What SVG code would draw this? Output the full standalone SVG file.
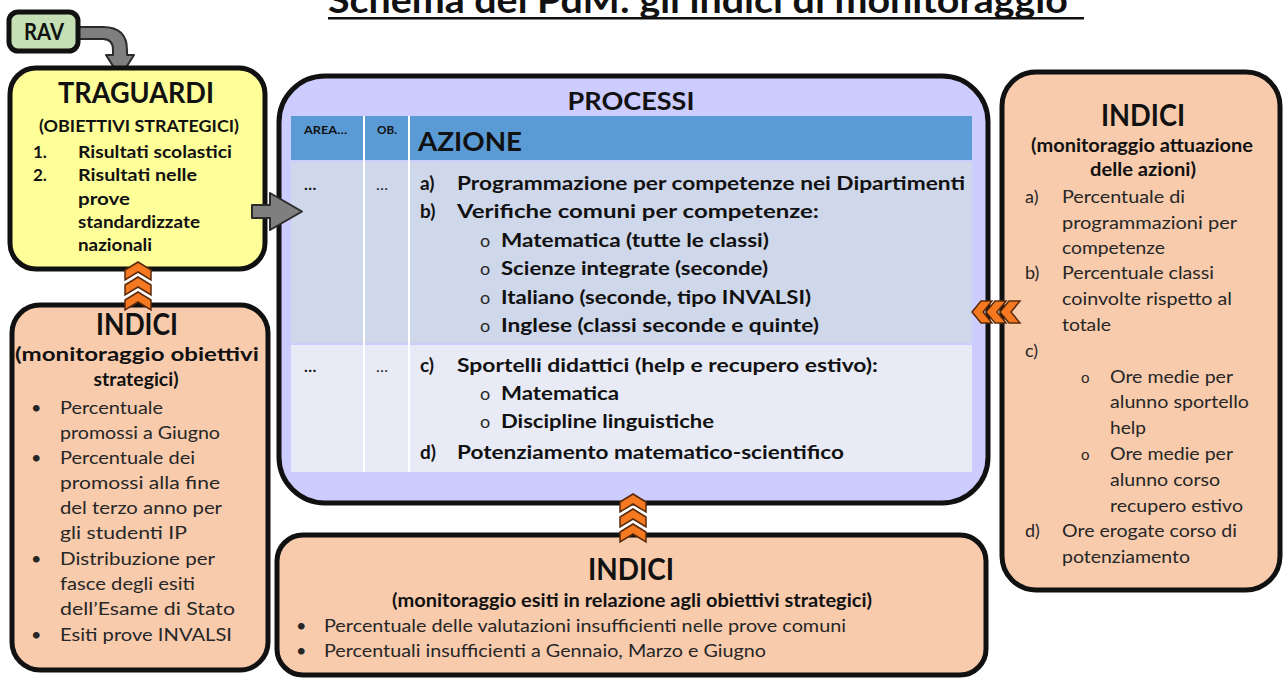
<svg xmlns="http://www.w3.org/2000/svg" width="1285" height="678" viewBox="0 0 1285 678">
<defs>
<style>
.box{stroke:#111;stroke-width:5}
.yel{fill:#ffff99}
.pch{fill:#f8cbad}
.lav{fill:#ccccff}
.grn{fill:#c5e0b4}
text{font-family:Lato,"Liberation Sans",sans-serif;fill:#111}
.b{font-weight:700}
.r{font-weight:400;fill:#262626}
.chev{fill:#f47920;stroke:#5a2a0a;stroke-width:1.5;stroke-linejoin:miter}
.arr{fill:#7f7f7f;stroke:#2b2b2b;stroke-width:2;stroke-linejoin:round}
.wl{stroke:#ffffff;stroke-width:2}
</style>
<polygon id="chevU" class="chev" points="-13,18 -13,8 0,0 13,8 13,18 0,10"/>
<polygon id="chevL" class="chev" points="0,11 9,0 20,0 11,11 20,22 9,22"/>
</defs>
<rect x="0" y="0" width="1285" height="678" fill="#ffffff"/>

<g id="title">
<text class="b" x="328" y="13" font-size="36" textLength="740" lengthAdjust="spacingAndGlyphs">Schema del PdM: gli indici di monitoraggio</text>
<rect x="328" y="17" width="756" height="2.5" fill="#111"/>
</g>

<g id="connectors">
<path class="arr" d="M 78 27 L 103 27 Q 127 27 127 50 L 127 55 L 134 55 L 120 77 L 106 55 L 113 55 L 113 50 Q 113 39 103 39 L 78 39 Z"/>
</g>

<g id="rav">
<rect class="box grn" x="9" y="12" width="69" height="39" rx="9"/>
<text class="b" x="44" y="40" font-size="22" text-anchor="middle" textLength="40" lengthAdjust="spacingAndGlyphs">RAV</text>
</g>

<g id="traguardi">
<rect class="box yel" x="10" y="68" width="255" height="201" rx="26"/>
<text class="b" x="136" y="103" font-size="28" text-anchor="middle" textLength="156" lengthAdjust="spacingAndGlyphs">TRAGUARDI</text>
<text class="b" x="139" y="132" font-size="17" text-anchor="middle" textLength="200" lengthAdjust="spacingAndGlyphs">(OBIETTIVI STRATEGICI)</text>
<text class="b" x="33" y="158" font-size="17">1.</text>
<text class="b" x="78" y="158" font-size="17" textLength="154" lengthAdjust="spacingAndGlyphs">Risultati scolastici</text>
<text class="b" x="33" y="181" font-size="17">2.</text>
<text class="b" x="78" y="181" font-size="17" textLength="119" lengthAdjust="spacingAndGlyphs">Risultati nelle</text>
<text class="b" x="78" y="205" font-size="17" textLength="52" lengthAdjust="spacingAndGlyphs">prove</text>
<text class="b" x="78" y="228" font-size="17" textLength="122" lengthAdjust="spacingAndGlyphs">standardizzate</text>
<text class="b" x="78" y="251" font-size="17" textLength="74" lengthAdjust="spacingAndGlyphs">nazionali</text>
</g>

<g id="indici-obiettivi">
<rect class="box pch" x="12" y="305" width="256" height="365" rx="28"/>
<text class="b" x="137" y="335" font-size="30" text-anchor="middle" textLength="82" lengthAdjust="spacingAndGlyphs">INDICI</text>
<text class="b" x="137" y="361" font-size="18" text-anchor="middle" textLength="244" lengthAdjust="spacingAndGlyphs">(monitoraggio  obiettivi</text>
<text class="b" x="136" y="386" font-size="18" text-anchor="middle" textLength="85" lengthAdjust="spacingAndGlyphs">strategici)</text>
<text class="r" x="31" y="414" font-size="18">•</text>
<text class="r" x="60" y="414" font-size="18" textLength="103" lengthAdjust="spacingAndGlyphs">Percentuale</text>
<text class="r" x="60" y="439" font-size="18" textLength="160" lengthAdjust="spacingAndGlyphs">promossi a Giugno</text>
<text class="r" x="31" y="464" font-size="18">•</text>
<text class="r" x="60" y="464" font-size="18" textLength="135" lengthAdjust="spacingAndGlyphs">Percentuale dei</text>
<text class="r" x="60" y="489" font-size="18" textLength="160" lengthAdjust="spacingAndGlyphs">promossi alla fine</text>
<text class="r" x="60" y="514" font-size="18" textLength="162" lengthAdjust="spacingAndGlyphs">del terzo anno per</text>
<text class="r" x="60" y="539" font-size="18" textLength="127" lengthAdjust="spacingAndGlyphs">gli studenti IP</text>
<text class="r" x="31" y="565" font-size="18">•</text>
<text class="r" x="60" y="565" font-size="18" textLength="155" lengthAdjust="spacingAndGlyphs">Distribuzione per</text>
<text class="r" x="60" y="590" font-size="18" textLength="135" lengthAdjust="spacingAndGlyphs">fasce degli esiti</text>
<text class="r" x="60" y="615" font-size="18" textLength="175" lengthAdjust="spacingAndGlyphs">dell’Esame di Stato</text>
<text class="r" x="31" y="641" font-size="18">•</text>
<text class="r" x="60" y="641" font-size="18" textLength="172" lengthAdjust="spacingAndGlyphs">Esiti prove INVALSI</text>
</g>

<g id="processi">
<rect class="box lav" x="279" y="76" width="709" height="427" rx="46"/>
<rect x="291" y="116" width="681" height="44" fill="#5b9bd5"/>
<rect x="291" y="162" width="681" height="181" fill="#cfd7ea"/>
<rect x="291" y="345" width="681" height="127" fill="#e8ebf5"/>
<line class="wl" x1="364" y1="116" x2="364" y2="472"/>
<line class="wl" x1="409" y1="116" x2="409" y2="472"/>
<text class="b" x="631" y="110" font-size="25" text-anchor="middle" textLength="127" lengthAdjust="spacingAndGlyphs">PROCESSI</text>
<text class="b" x="304" y="134" font-size="12" textLength="43" lengthAdjust="spacingAndGlyphs">AREA…</text>
<text class="b" x="377" y="134" font-size="12" textLength="20" lengthAdjust="spacingAndGlyphs">OB.</text>
<text class="b" x="418" y="151" font-size="27" textLength="104" lengthAdjust="spacingAndGlyphs">AZIONE</text>
<text class="b" x="304" y="190" font-size="16">…</text>
<text class="r" x="376" y="190" font-size="16">…</text>
<text class="b" x="420" y="190" font-size="19">a)</text>
<text class="b" x="457" y="190" font-size="19" textLength="508" lengthAdjust="spacingAndGlyphs">Programmazione per competenze nei Dipartimenti</text>
<text class="b" x="420" y="218" font-size="19">b)</text>
<text class="b" x="457" y="218" font-size="19" textLength="362" lengthAdjust="spacingAndGlyphs">Verifiche comuni per competenze:</text>
<text class="r" x="480" y="247" font-size="18">o</text>
<text class="b" x="501" y="247" font-size="19" textLength="268" lengthAdjust="spacingAndGlyphs">Matematica (tutte le classi)</text>
<text class="r" x="480" y="275" font-size="18">o</text>
<text class="b" x="501" y="275" font-size="19" textLength="267" lengthAdjust="spacingAndGlyphs">Scienze integrate (seconde)</text>
<text class="r" x="480" y="304" font-size="18">o</text>
<text class="b" x="501" y="304" font-size="19" textLength="310" lengthAdjust="spacingAndGlyphs">Italiano (seconde, tipo INVALSI)</text>
<text class="r" x="480" y="332" font-size="18">o</text>
<text class="b" x="501" y="332" font-size="19" textLength="318" lengthAdjust="spacingAndGlyphs">Inglese (classi seconde e quinte)</text>
<text class="b" x="304" y="372" font-size="16">…</text>
<text class="r" x="376" y="372" font-size="16">…</text>
<text class="b" x="420" y="372" font-size="19">c)</text>
<text class="b" x="457" y="372" font-size="19" textLength="421" lengthAdjust="spacingAndGlyphs">Sportelli didattici (help e recupero estivo):</text>
<text class="r" x="480" y="400" font-size="18">o</text>
<text class="b" x="501" y="400" font-size="19" textLength="118" lengthAdjust="spacingAndGlyphs">Matematica</text>
<text class="r" x="480" y="428" font-size="18">o</text>
<text class="b" x="501" y="428" font-size="19" textLength="213" lengthAdjust="spacingAndGlyphs">Discipline linguistiche</text>
<text class="b" x="420" y="459" font-size="19">d)</text>
<text class="b" x="457" y="459" font-size="19" textLength="387" lengthAdjust="spacingAndGlyphs">Potenziamento matematico-scientifico</text>
</g>

<g id="indici-azioni">
<rect class="box pch" x="1002" y="72" width="278" height="518" rx="34"/>
<text class="b" x="1143" y="126" font-size="30" text-anchor="middle" textLength="84" lengthAdjust="spacingAndGlyphs">INDICI</text>
<text class="b" x="1142" y="152" font-size="18" text-anchor="middle" textLength="222" lengthAdjust="spacingAndGlyphs">(monitoraggio  attuazione</text>
<text class="b" x="1143" y="176" font-size="18" text-anchor="middle" textLength="106" lengthAdjust="spacingAndGlyphs">delle azioni)</text>
<text class="r" x="1025" y="203" font-size="18">a)</text>
<text class="r" x="1062" y="203" font-size="18" textLength="123" lengthAdjust="spacingAndGlyphs">Percentuale di</text>
<text class="r" x="1062" y="229" font-size="18" textLength="175" lengthAdjust="spacingAndGlyphs">programmazioni per</text>
<text class="r" x="1062" y="254" font-size="18" textLength="103" lengthAdjust="spacingAndGlyphs">competenze</text>
<text class="r" x="1025" y="279" font-size="18">b)</text>
<text class="r" x="1062" y="279" font-size="18" textLength="152" lengthAdjust="spacingAndGlyphs">Percentuale classi</text>
<text class="r" x="1062" y="305" font-size="18" textLength="170" lengthAdjust="spacingAndGlyphs">coinvolte rispetto al</text>
<text class="r" x="1062" y="331" font-size="18" textLength="49" lengthAdjust="spacingAndGlyphs">totale</text>
<text class="r" x="1025" y="357" font-size="18">c)</text>
<text class="r" x="1081" y="383" font-size="15">o</text>
<text class="r" x="1110" y="383" font-size="18" textLength="123" lengthAdjust="spacingAndGlyphs">Ore medie per</text>
<text class="r" x="1110" y="408" font-size="18" textLength="139" lengthAdjust="spacingAndGlyphs">alunno sportello</text>
<text class="r" x="1110" y="434" font-size="18" textLength="36" lengthAdjust="spacingAndGlyphs">help</text>
<text class="r" x="1081" y="460" font-size="15">o</text>
<text class="r" x="1110" y="460" font-size="18" textLength="123" lengthAdjust="spacingAndGlyphs">Ore medie per</text>
<text class="r" x="1110" y="486" font-size="18" textLength="110" lengthAdjust="spacingAndGlyphs">alunno corso</text>
<text class="r" x="1110" y="512" font-size="18" textLength="133" lengthAdjust="spacingAndGlyphs">recupero estivo</text>
<text class="r" x="1025" y="537" font-size="18">d)</text>
<text class="r" x="1062" y="537" font-size="18" textLength="175" lengthAdjust="spacingAndGlyphs">Ore erogate corso di</text>
<text class="r" x="1062" y="563" font-size="18" textLength="128" lengthAdjust="spacingAndGlyphs">potenziamento</text>
</g>

<g id="indici-esiti">
<rect class="box pch" x="277" y="535" width="709" height="140" rx="26"/>
<text class="b" x="631" y="580" font-size="30" text-anchor="middle" textLength="86" lengthAdjust="spacingAndGlyphs">INDICI</text>
<text class="b" x="392" y="607" font-size="18" textLength="480" lengthAdjust="spacingAndGlyphs">(monitoraggio  esiti in relazione agli obiettivi strategici)</text>
<text class="r" x="296" y="632" font-size="18">•</text>
<text class="r" x="324" y="632" font-size="18" textLength="522" lengthAdjust="spacingAndGlyphs">Percentuale delle valutazioni insufficienti nelle prove comuni</text>
<text class="r" x="296" y="657" font-size="18">•</text>
<text class="r" x="324" y="657" font-size="18" textLength="442" lengthAdjust="spacingAndGlyphs">Percentuali insufficienti a Gennaio, Marzo e Giugno</text>
</g>

<g id="connectors-2">
<path class="arr" d="M 252 205 L 270 205 L 270 193 L 302 211.5 L 270 230 L 270 218 L 252 218 Z"/>
<use href="#chevU" x="138" y="262"/>
<use href="#chevU" x="138" y="277"/>
<use href="#chevU" x="138" y="292"/>
<use href="#chevU" x="633" y="494"/>
<use href="#chevU" x="633" y="509"/>
<use href="#chevU" x="633" y="524"/>
<use href="#chevL" x="972" y="301"/>
<use href="#chevL" x="986" y="301"/>
<use href="#chevL" x="1000" y="301"/>
</g>
</svg>
